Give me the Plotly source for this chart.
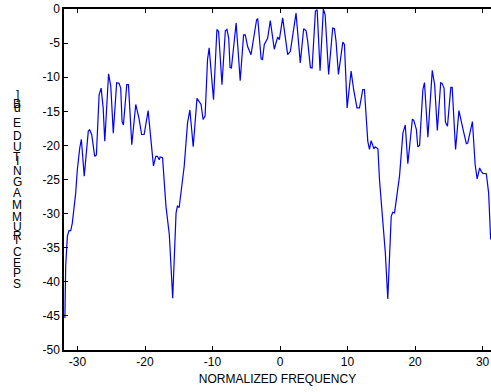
import plotly.graph_objects as go

# ---- data ----
freq = [-31.87, -31.75, -31.5, -31.26, -31.0, -30.77, -30.27, -30.03, -29.67, -29.43,
        -29.0, -28.8, -28.4, -28.2, -27.9, -27.45, -27.2, -26.8, -26.5, -26.2,
        -25.96, -25.4, -25.07, -24.7, -24.2, -23.85, -23.6, -23.4, -23.2, -22.7,
        -22.45, -21.96, -21.37, -20.9, -20.5, -20.13, -19.54, -18.75, -18.4, -18.16,
        -17.9, -17.76, -17.4, -16.9, -16.4, -15.9, -15.4, -15.2, -14.94, -14.2,
        -13.7, -13.35, -12.86, -12.3, -11.7, -11.4, -11.1, -10.74, -10.5, -9.85,
        -9.35, -9.1, -8.6, -8.1, -7.86, -7.6, -7.4, -7.2, -6.5, -5.9,
        -5.4, -5.15, -4.8, -4.3, -3.47, -3.3, -2.8, -2.6, -2.33, -1.84,
        -1.44, -0.85, -0.35, -0.1, 0.39, 1.13, 1.53, 2.37, 3.0, 3.5,
        3.86, 4.1, 4.5, 4.75, 5.24, 5.5, 5.93, 6.42, 6.68, 7.2,
        7.8, 8.06, 8.3, 8.65, 9.3, 9.54, 9.94, 10.53, 10.9, 11.4,
        11.77, 12.26, 12.5, 13.0, 13.25, 13.5, 13.9, 14.1, 14.5, 14.73,
        15.2, 15.6, 15.96, 16.47, 16.7, 16.96, 17.7, 18.2, 18.55, 18.93,
        19.6, 19.8, 20.2, 20.4, 20.67, 21.16, 21.4, 21.9, 22.55, 22.9,
        23.3, 23.8, 24.0, 24.3, 24.5, 24.8, 25.3, 25.5, 26.0, 26.5,
        27.1, 27.6, 27.8, 28.5, 28.9, 29.2, 29.57, 29.8, 30.06, 30.56,
        30.9, 31.2]
mag_db = [-45.3, -37.7, -33.3, -32.5, -32.5, -31.4, -27.0, -23.6, -20.4, -19.1,
          -24.5, -22.1, -17.9, -17.7, -18.4, -21.6, -21.4, -12.6, -11.6, -14.5,
          -19.4, -9.5, -11.3, -18.2, -10.8, -10.9, -11.6, -16.5, -17.0, -11.1,
          -11.1, -19.9, -14.0, -16.0, -18.4, -18.4, -14.9, -23.0, -21.6, -21.6,
          -22.1, -21.7, -21.8, -28.9, -33.1, -42.4, -29.9, -28.9, -29.1, -23.1,
          -16.7, -14.8, -20.2, -13.1, -14.0, -16.2, -15.7, -7.4, -5.7, -13.3,
          -3.0, -3.3, -11.1, -3.2, -3.0, -4.3, -8.6, -8.65, -2.05, -10.5,
          -3.8, -3.8, -5.5, -6.7, -1.57, -1.4, -7.3, -7.4, -5.2, -4.3,
          -1.7, -5.9, -4.1, -4.5, -1.3, -6.7, -6.2, -0.6, -7.9, -2.9,
          -3.2, -4.75, -8.6, -8.65, -0.35, -0.1, -9.05, 0.0, -0.85, -9.6,
          -2.8, -2.9, -4.75, -9.6, -4.85, -5.2, -14.5, -9.1, -11.8, -14.5,
          -14.5, -11.8, -11.8, -19.4, -20.6, -19.3, -20.5, -20.2, -20.5, -25.0,
          -30.2, -35.8, -42.5, -30.4, -29.8, -29.9, -24.5, -18.2, -17.0, -22.7,
          -16.2, -16.3, -17.7, -20.2, -20.0, -11.8, -10.8, -18.8, -9.0, -11.1,
          -17.8, -10.8, -10.9, -11.6, -16.6, -17.2, -11.5, -11.5, -20.6, -14.9,
          -17.6, -19.75, -19.65, -16.5, -22.8, -24.9, -23.3, -23.8, -24.1, -24.15,
          -27.0, -33.8]

x_ticks = [-30, -20, -10, 0, 10, 20, 30]
x_tick_text = ["-30", "-20", "-10", "0", "10", "20", "30"]
y_ticks = [-50, -45, -40, -35, -30, -25, -20, -15, -10, -5, 0]
y_tick_text = ["-50", "-45", "-40", "-35", "-30", "-25", "-20", "-15", "-10", "-5", "0"]
x_title = "NORMALIZED FREQUENCY"
# stacked (overlapping) y-label glyphs, top to bottom
y_label_chars = ["]", "B", "d", "E", "D", "U", "T", "I", "N", "G", "A", "M",
                 "M", "U", "R", "T", "C", "E", "P", "S"]

FONT = "Liberation Sans, Arial, sans-serif"

fig = go.Figure()
fig.add_trace(go.Scatter(x=freq, y=mag_db, mode="lines",
                         line=dict(color="#0000ff", width=1.2),
                         hoverinfo="skip", showlegend=False))

W, H = 491, 392
L, R, T, B = 64, 0, 9, 42
fig.update_layout(
    width=W, height=H,
    margin=dict(l=L, r=R, t=T, b=B, pad=0),
    paper_bgcolor="white", plot_bgcolor="white",
    font=dict(family=FONT, size=12, color="black"),
    xaxis=dict(range=[-32, 31.25], tickvals=x_ticks, ticktext=x_tick_text,
               ticks="inside", ticklen=4, tickwidth=1, tickcolor="black",
               showline=True, linecolor="black", linewidth=1.5, mirror="ticks",
               showgrid=False, zeroline=False,
               tickfont=dict(family=FONT, size=12, color="black"),
               title=dict(text=x_title, font=dict(family=FONT, size=12, color="black"),
                          standoff=6)),
    yaxis=dict(range=[-50, 0], tickvals=y_ticks, ticktext=y_tick_text,
               ticks="inside", ticklen=4, tickwidth=1, tickcolor="black",
               showline=True, linecolor="black", linewidth=1.5, mirror=False,
               showgrid=False, zeroline=False,
               tickfont=dict(family=FONT, size=12, color="black")),
)

# y-label: characters stacked vertically, overlapping as in the reference
plot_h = H - T - B
row_px = [95, 104, 108, 123, 136, 147, 157, 161, 171, 182, 193, 205,
          217, 227, 236, 240, 252, 263, 273, 284]
for ch, py in zip(y_label_chars, row_px):
    fig.add_annotation(text=ch, xref="paper", yref="paper",
                       x=(17 - L) / (W - L - R), y=(H - B - py) / plot_h,
                       xanchor="center", yanchor="middle", showarrow=False,
                       font=dict(family=FONT, size=12, color="black"))

fig.write_html("out.html")
